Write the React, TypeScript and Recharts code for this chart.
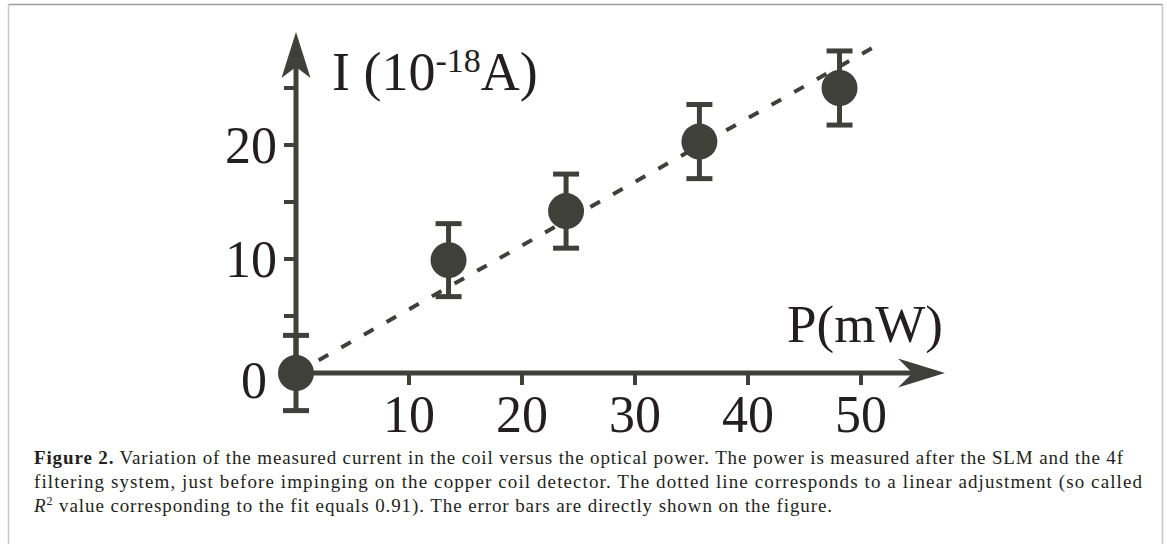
import React from 'react';
import { ScatterChart, Scatter, XAxis, YAxis, ErrorBar, ReferenceLine, ReferenceDot } from 'recharts';

// ---- data ----
const power = [0, 13.5, 23.9, 35.7, 48.1]; // P (mW)
const current = [0, 9.9, 14.2, 20.3, 25.0]; // I (1e-18 A)
const currentErr = [3.3, 3.2, 3.25, 3.25, 3.25];
const xTicks = [10, 20, 30, 40, 50];
const yTicks = [0, 5, 10, 15, 20, 25];
const yLabeledTicks = [0, 10, 20];
const fitStart = { p: 0, i: 0 };
const fitEnd = { p: 51.7, i: 28.9 };
const xDomain = [0, 55];
const yDomain = [0, 29];

const captionLine1Bold = 'Figure 2.';
const captionLine1 = ' Variation of the measured current in the coil versus the optical power. The power is measured after the SLM and the 4f';
const captionLine2 = 'filtering system, just before impinging on the copper coil detector. The dotted line corresponds to a linear adjustment (so called';
const captionLine3 = ' value corresponding to the fit equals 0.91). The error bars are directly shown on the figure.';

const data = power.map((p, k) => ({ p, i: current[k], err: currentErr[k] }));

// ---- styles ----
const INK = '#40403a';
const TEXT = '#231f20';
const FONT = "'Liberation Serif', 'Times New Roman', serif";

const PointShape = (props: any) => <circle cx={props.cx} cy={props.cy} r={18} fill={INK} />;

const YTick = (props: any) => {
  const { x, y, payload } = props;
  if (!yLabeledTicks.includes(payload.value)) return <g />;
  const isZero = payload.value === 0;
  return (
    <text
      x={x + (isZero ? -10 : 0)}
      y={y + (isZero ? 7 : 0)}
      textAnchor="end"
      dominantBaseline="central"
      fontSize={52}
      fontFamily={FONT}
      fill={TEXT}
    >
      {payload.value}
    </text>
  );
};

const XArrow = (props: any) => {
  const { cx, cy } = props;
  return (
    <path
      d={`M${cx + 27.5},${cy} L${cx - 19.5},${cy - 14.5} L${cx - 5},${cy} L${cx - 19.5},${cy + 14.5} Z`}
      fill={INK}
    />
  );
};

const YArrow = (props: any) => {
  const { cx, cy } = props;
  return (
    <path
      d={`M${cx},${cy - 10.4} L${cx - 14.5},${cy + 35.6} L${cx},${cy + 24.6} L${cx + 14.5},${cy + 35.6} Z`}
      fill={INK}
    />
  );
};

export default function App() {
  return (
    <div style={{ position: 'absolute', left: 0, top: 0, width: 1167, height: 544, background: '#fff', overflow: 'hidden' }}>
      <style>{'.recharts-wrapper g[clip-path]{clip-path:none !important;}'}</style>
      <div style={{ position: 'absolute', left: 0, top: 0 }}>
        <ScatterChart
          width={1167}
          height={544}
          margin={{ top: 42.4, right: 249.5, bottom: 111, left: 236 }}
        >
          <XAxis
            type="number"
            dataKey="p"
            domain={xDomain}
            ticks={xTicks}
            height={60}
            allowDataOverflow
            axisLine={{ stroke: INK, strokeWidth: 5 }}
            tickLine={{ stroke: INK, strokeWidth: 4 }}
            tickSize={12}
            tickMargin={10}
            tick={{ fill: TEXT, fontSize: 52, fontFamily: FONT }}
            interval={0}
          />
          <YAxis
            type="number"
            dataKey="i"
            domain={yDomain}
            ticks={yTicks}
            width={60}
            allowDataOverflow
            axisLine={{ stroke: INK, strokeWidth: 5 }}
            tickLine={{ stroke: INK, strokeWidth: 4 }}
            tickSize={12}
            tickMargin={7}
            tick={<YTick />}
            interval={0}
          />
          <ReferenceLine
            segment={[{ x: fitStart.p, y: fitStart.i }, { x: fitEnd.p, y: fitEnd.i }]}
            stroke={INK}
            strokeWidth={4}
            strokeDasharray="11 15"
            ifOverflow="visible"
          />
          <ReferenceDot x={xDomain[1]} y={0} r={1} ifOverflow="visible" shape={<XArrow />} />
          <ReferenceDot x={0} y={yDomain[1]} r={1} ifOverflow="visible" shape={<YArrow />} />
          <Scatter data={data} fill={INK} shape={<PointShape />} isAnimationActive={false}>
            <ErrorBar dataKey="err" direction="y" width={13} stroke={INK} strokeWidth={5} isAnimationActive={false} />
          </Scatter>
        </ScatterChart>
      </div>
      <svg
        width={1167}
        height={544}
        style={{ position: 'absolute', left: 0, top: 0, pointerEvents: 'none' }}
      >
        <line x1={8} y1={4.5} x2={1162.5} y2={4.5} stroke="#9c9c9c" strokeWidth={1.5} />
        <line x1={8.5} y1={4} x2={8.5} y2={544} stroke="#c8c8c8" strokeWidth={1.5} />
        <line x1={1162.5} y1={4} x2={1162.5} y2={544} stroke="#c8c8c8" strokeWidth={1.5} />

        <text x={332} y={90} fontSize={54} fontFamily={FONT} fill={TEXT}>
          I (10
          <tspan fontSize={34} dy={-18}>-18</tspan>
          <tspan dy={18}>A)</tspan>
        </text>
        <text x={787} y={342} fontSize={53} fontFamily={FONT} fill={TEXT}>P(mW)</text>

        <text x={34} y={464} fontSize={19} fontFamily={FONT} fill={TEXT} textLength={1089} lengthAdjust="spacing">
          <tspan fontWeight="bold">{captionLine1Bold}</tspan>
          {captionLine1}
        </text>
        <text x={34} y={488} fontSize={19} fontFamily={FONT} fill={TEXT} textLength={1108} lengthAdjust="spacing">
          {captionLine2}
        </text>
        <text x={34} y={512} fontSize={19} fontFamily={FONT} fill={TEXT} textLength={798} lengthAdjust="spacing">
          <tspan fontStyle="italic">R</tspan>
          <tspan fontSize={12} dy={-7}>2</tspan>
          <tspan dy={7}>{captionLine3}</tspan>
        </text>
      </svg>
    </div>
  );
}
